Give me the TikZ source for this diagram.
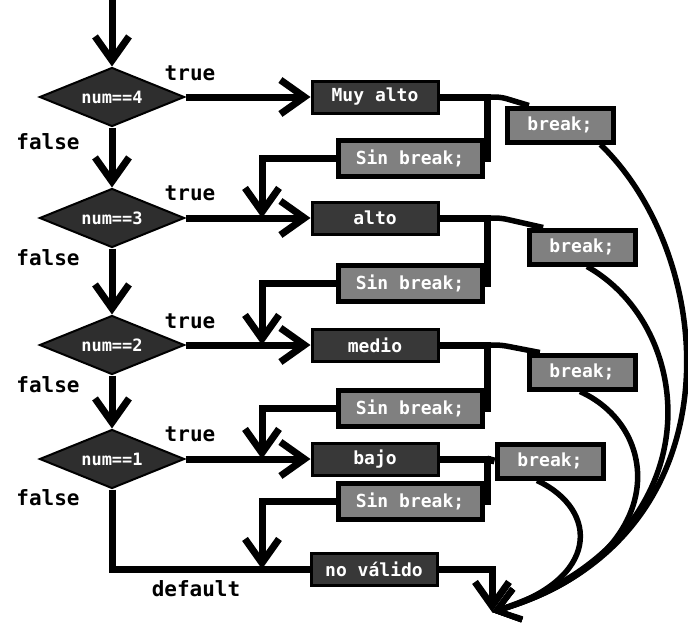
\documentclass[tikz,border=0pt]{standalone}
\usepackage{fontspec}
\setmonofont{DejaVu Sans Mono}
\usetikzlibrary{arrows.meta,shapes.geometric,calc}
\begin{document}
\begin{tikzpicture}[x=1pt,y=-1pt,
  conn/.style={line width=7pt},
  arr/.style={conn,-{Straight Barb[length=24pt,width=34pt]}},
  curv/.style={line width=5.5pt,-{Straight Barb[length=22pt,width=32pt]}},
  dec/.style={diamond,fill=black!82,draw=black,line width=2pt,text=white,minimum width=145pt,minimum height=59pt,aspect=2.45,inner sep=0pt,font=\ttfamily\bfseries\fontsize{17}{18}\selectfont},
  casebox/.style={rectangle,fill=black!78,draw=black,line width=3pt,text=white,minimum width=126pt,minimum height=32pt,inner sep=0pt,font=\ttfamily\bfseries\fontsize{18}{19}\selectfont},
  sinbox/.style={rectangle,fill=black!50,draw=black,line width=5pt,text=white,minimum width=144pt,minimum height=36pt,inner sep=0pt,font=\ttfamily\bfseries\fontsize{18}{19}\selectfont},
  brkbox/.style={rectangle,fill=black!50,draw=black,line width=5pt,text=white,minimum width=106pt,minimum height=34pt,inner sep=0pt,font=\ttfamily\bfseries\fontsize{18}{19}\selectfont},
  lbl/.style={font=\ttfamily\bfseries\fontsize{21}{22}\selectfont,inner sep=0pt},
  brk/.style={line width=5.5pt,rounded corners=6pt}
]
\useasboundingbox[fill=white] (0,0) rectangle (688,629);

% decisions
\node[dec] (d1) at (112,97) {num==4};
\node[dec] (d2) at (112,218) {num==3};
\node[dec] (d3) at (112,345) {num==2};
\node[dec] (d4) at (112,459) {num==1};

% case boxes
\node[casebox] (c1) at (375,97) {Muy alto};
\node[casebox] (c2) at (375,218) {alto};
\node[casebox] (c3) at (375,345) {medio};
\node[casebox] (c4) at (375,459) {bajo};
\node[casebox] (nv) at (374,569) {no válido};

% sin break boxes
\node[sinbox] (s1) at (410,158) {Sin break;};
\node[sinbox] (s2) at (410,283) {Sin break;};
\node[sinbox] (s3) at (410,408) {Sin break;};
\node[sinbox] (s4) at (410,501) {Sin break;};

% break boxes
\node[brkbox] (b1) at (560,125) {break;};
\node[brkbox] (b2) at (582,247) {break;};
\node[brkbox] (b3) at (582,372) {break;};
\node[brkbox] (b4) at (550,461) {break;};

% coordinates
\coordinate (top) at (112,0);
\coordinate (end) at (492,612);
\coordinate (j1) at (487,97);
\coordinate (j2) at (487,218);
\coordinate (j3) at (487,345);
\coordinate (j4) at (487,459);
\coordinate (m2) at (262,218);
\coordinate (m3) at (262,345);
\coordinate (m4) at (262,459);
\coordinate (m5) at (262,569);
\coordinate (dd) at (112,569);

% flow
\draw[arr] (top) -- (d1.north);
\draw[arr] (d1.south) -- (d2.north);
\draw[arr] (d2.south) -- (d3.north);
\draw[arr] (d3.south) -- (d4.north);
\draw[arr] (d1.east) -- (c1.west);
\draw[arr] (d2.east) -- (c2.west);
\draw[arr] (d3.east) -- (c3.west);
\draw[arr] (d4.east) -- (c4.west);
\draw[conn] (d4.south) -- (dd) -- (nv.west);

% fork after each case
\draw[conn] (c1.east) -- (j1) |- (s1.east);
\draw[conn] (c2.east) -- (j2) |- (s2.east);
\draw[conn] (c3.east) -- (j3) |- (s3.east);
\draw[conn] (c4.east) -- (j4) |- (s4.east);
\draw[brk] (j1) -- ++(14,0) -- ($(b1.north west)!0.22!(b1.north east)$);
\draw[brk] (j2) -- ++(14,0) -- ($(b2.north west)!0.15!(b2.north east)$);
\draw[brk] (j3) -- ++(14,0) -- ($(b3.north west)!0.12!(b3.north east)$);
\draw[conn] (j4) -- (b4.west);

% fall-through
\draw[arr] (s1.west) -| (m2);
\draw[arr] (s2.west) -| (m3);
\draw[arr] (s3.west) -| (m4);
\draw[arr] (s4.west) -| (m5);

% to end
\draw[arr] (nv.east) -| (end);
\draw[curv] ($(b1.south east)+(-15,0)$) .. controls (720,260) and (740,540) .. (end);
\draw[curv] ($(b2.south)+(5,0)$) .. controls (700,330) and (715,540) .. (end);
\draw[curv] ($(b3.south)+(-2,0)$) .. controls (665,430) and (670,560) .. (end);
\draw[curv] ($(b4.south)+(-13,0)$) .. controls (600,510) and (600,580) .. (end);

% labels
\node[lbl] (t1) at (190,73) {true};
\node[lbl] (t2) at (190,193) {true};
\node[lbl] (t3) at (190,321) {true};
\node[lbl] (t4) at (190,434) {true};
\node[lbl] (f1) at (48,142) {false};
\node[lbl] (f2) at (48,258) {false};
\node[lbl] (f3) at (48,385) {false};
\node[lbl] (f4) at (48,498) {false};
\node[lbl] (df) at (196,589) {default};
\end{tikzpicture}
\end{document}
